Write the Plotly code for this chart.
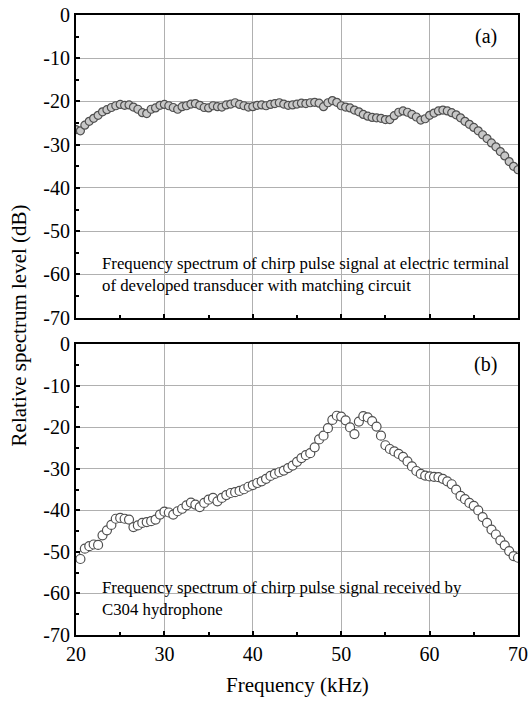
import plotly.graph_objects as go

freq = [20 + 0.5 * i for i in range(101)]

level_a = [
    -26.5, -26.8, -25.5, -24.6, -23.9, -23.2, -22.4, -21.9, -21.4, -21.0,
    -20.7, -20.9, -20.8, -21.3, -21.8, -22.6, -22.8, -21.8, -21.5, -20.9,
    -20.7, -21.0, -21.4, -21.8, -21.2, -21.0, -20.6, -20.5, -20.9, -21.4,
    -21.5, -21.0, -21.2, -21.3, -20.8, -20.6, -20.3, -20.7, -21.0, -21.3,
    -21.2, -20.9, -20.8, -21.0, -20.7, -20.5, -20.3, -20.6, -20.9, -20.8,
    -20.6, -20.4, -20.5, -20.3, -20.2, -20.4, -21.2, -20.3, -19.8, -20.2,
    -21.0, -21.3, -21.5, -22.0, -22.4, -23.0, -23.4, -23.7, -23.8, -23.9,
    -24.2, -24.2, -23.3, -22.5, -22.2, -22.5, -23.0, -23.6, -24.3, -24.0,
    -23.2, -22.7, -22.2, -22.0, -22.2, -22.6, -23.1, -23.8, -24.6, -25.3,
    -26.0, -26.8, -27.7, -28.6, -29.6, -30.5, -31.6, -32.6, -33.9, -35.0,
    -35.8,
]

level_b = [
    -51.0, -51.7, -49.2, -48.6, -48.2, -48.3, -46.0, -44.8, -43.5, -42.0,
    -41.8, -42.0, -42.2, -44.0, -43.6, -43.0, -42.8, -42.6, -42.2, -41.0,
    -40.3, -40.5, -41.0, -40.2, -39.6, -38.8, -38.1, -38.6, -39.2, -38.2,
    -37.4, -37.0, -37.8, -37.0, -36.3, -35.8, -35.6, -35.3, -34.9, -34.3,
    -33.9, -33.4, -33.0, -32.4, -31.7, -31.2, -30.8, -30.4, -29.8, -29.2,
    -28.3, -27.4, -26.7, -26.2, -24.8, -22.9, -22.0, -20.2, -18.2, -17.2,
    -17.4, -18.3, -20.0, -21.6, -18.6, -17.3, -17.6, -18.5, -19.8, -22.0,
    -24.3, -25.2, -25.8, -26.4, -27.1, -28.2, -29.4, -30.5, -31.2, -31.6,
    -31.8, -31.9, -32.0, -32.4, -33.0, -33.7, -35.0, -36.5, -37.3, -38.2,
    -38.9, -40.0, -41.6, -43.0, -44.6, -45.8, -47.2, -48.4, -49.8, -51.0,
    -51.4,
]

y_ticks = [0, -10, -20, -30, -40, -50, -60, -70]
x_ticks = [20, 30, 40, 50, 60, 70]

FONT = "Liberation Serif"

fig = go.Figure()
fig.add_trace(go.Scatter(
    x=freq, y=level_a, mode="markers", xaxis="x", yaxis="y",
    marker=dict(symbol="circle", size=8, color="#c8c8c8",
                line=dict(color="#505050", width=1.2)),
    showlegend=False,
))
fig.add_trace(go.Scatter(
    x=freq, y=level_b, mode="markers", xaxis="x2", yaxis="y2",
    marker=dict(symbol="circle", size=9, color="white",
                line=dict(color="#505050", width=1.2)),
    showlegend=False,
))

axis_common = dict(
    showline=True, linecolor="black", linewidth=2, mirror=True,
    showgrid=True, gridcolor="#b0b0b0", gridwidth=1,
    ticks="inside", ticklen=4, tickwidth=2, tickcolor="black",
    zeroline=False, ticklabeloverflow="allow",
    tickfont=dict(family=FONT, size=20, color="black"),
)
minor_common = dict(ticks="inside", dtick=5, ticklen=3, tickwidth=2,
                    tickcolor="black", showgrid=False)

fig.update_layout(
    width=532, height=703,
    margin=dict(l=76, r=4, t=10, b=68),
    paper_bgcolor="white", plot_bgcolor="white",
    font=dict(family=FONT, color="black"),
    xaxis=dict(domain=[0, 1], anchor="y", range=[20, 70], tickvals=x_ticks,
               showticklabels=False, minor=minor_common, **axis_common),
    yaxis=dict(domain=[0.512, 1.0], anchor="x", range=[-70, 0], tickvals=y_ticks,
               ticktext=[str(v) for v in y_ticks], minor=minor_common, **axis_common),
    xaxis2=dict(domain=[0, 1], anchor="y2", range=[20, 70], tickvals=x_ticks,
                minor=minor_common, **axis_common),
    yaxis2=dict(domain=[0, 0.4688], anchor="x2", range=[-70, 0], tickvals=y_ticks,
                ticktext=[str(v) for v in y_ticks], minor=minor_common, **axis_common),
)

ann_font = dict(family=FONT, size=20, color="black")
fig.add_annotation(text="(a)", xref="paper", yref="paper", x=0.927, y=0.965,
                   xanchor="center", yanchor="middle", showarrow=False, font=ann_font)
fig.add_annotation(text="(b)", xref="paper", yref="paper", x=0.927, y=0.437,
                   xanchor="center", yanchor="middle", showarrow=False, font=ann_font)
fig.add_annotation(
    text="Frequency spectrum of chirp pulse signal at electric terminal<br>of developed transducer with matching circuit",
    xref="x", yref="y", x=22.7, y=-54.8, xanchor="left", yanchor="top", align="left",
    showarrow=False, font=dict(family=FONT, size=16.8, color="black"))
fig.add_annotation(
    text="Frequency spectrum of chirp pulse signal received by<br>C304 hydrophone",
    xref="x2", yref="y2", x=22.7, y=-55.9, xanchor="left", yanchor="top", align="left",
    showarrow=False, font=dict(family=FONT, size=16.8, color="black"))

fig.add_annotation(text="Relative spectrum level (dB)", xref="paper", yref="paper",
                   x=-0.128, y=0.5, xanchor="center", yanchor="middle", textangle=-90,
                   showarrow=False, font=dict(family=FONT, size=21, color="black"))
fig.add_annotation(text="Frequency (kHz)", xref="paper", yref="paper",
                   x=0.5, y=-0.08, xanchor="center", yanchor="middle",
                   showarrow=False, font=dict(family=FONT, size=21, color="black"))

fig.write_html("out.html", config={"displayModeBar": False},
               post_script="document.body.style.margin='0';document.body.style.overflow='hidden';")
